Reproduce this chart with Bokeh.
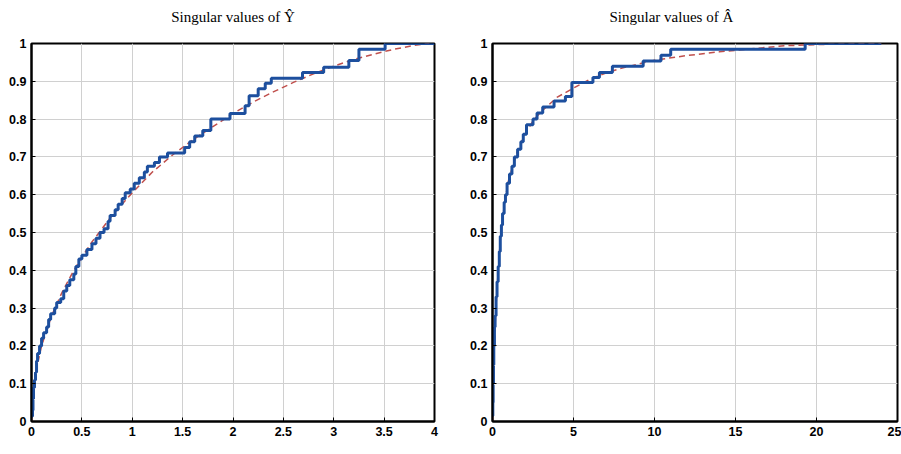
from bokeh.plotting import figure
from bokeh.layouts import row
from bokeh.models import Range1d, FixedTicker
from bokeh.embed import file_html
from bokeh.resources import INLINE

# ---------------- data ----------------
# Left panel: singular values of Y-hat (empirical CDF steps)
y_step_x = [0.00, 0.01, 0.015, 0.02, 0.03, 0.04, 0.05, 0.06, 0.08, 0.10, 0.12, 0.15, 0.17,
            0.19, 0.23, 0.25, 0.29, 0.32, 0.35, 0.38, 0.42, 0.44, 0.47, 0.50, 0.55, 0.60,
            0.64, 0.68, 0.72, 0.76, 0.78, 0.83, 0.86, 0.90, 0.93, 0.98, 1.02, 1.07, 1.12,
            1.15, 1.22, 1.27, 1.35, 1.52, 1.57, 1.62, 1.70, 1.78, 1.97, 2.12, 2.16, 2.25,
            2.32, 2.38, 2.69, 2.90, 3.15, 3.25, 3.51, 4.00]
y_step_y = [0.014, 0.03, 0.06, 0.09, 0.11, 0.13, 0.16, 0.18, 0.20, 0.22, 0.235, 0.25, 0.27,
            0.285, 0.30, 0.315, 0.325, 0.345, 0.36, 0.375, 0.39, 0.41, 0.43, 0.44, 0.455, 0.47,
            0.485, 0.50, 0.51, 0.53, 0.545, 0.56, 0.575, 0.59, 0.605, 0.615, 0.63, 0.645, 0.66,
            0.675, 0.685, 0.70, 0.71, 0.725, 0.74, 0.755, 0.77, 0.80, 0.815, 0.835, 0.862, 0.88,
            0.895, 0.908, 0.923, 0.937, 0.955, 0.985, 1.00, 1.00]
# Left panel: theoretical CDF (red dashed)
y_theo_x = [0.0, 0.005, 0.02, 0.05, 0.1, 0.2, 0.3, 0.4, 0.5, 0.6, 0.8, 1.0, 1.2, 1.4, 1.6,
            1.8, 2.0, 2.2, 2.4, 2.6, 2.8, 3.0, 3.2, 3.4, 3.6, 3.8, 3.95]
y_theo_y = [0.0, 0.04, 0.085, 0.14, 0.2, 0.28, 0.34, 0.39, 0.435, 0.475, 0.545, 0.605, 0.66,
            0.705, 0.745, 0.78, 0.815, 0.845, 0.872, 0.897, 0.92, 0.94, 0.958, 0.972, 0.985,
            0.995, 1.0]

# Right panel: singular values of A-hat (empirical CDF steps)
a_step_x = [0.0, 0.02, 0.04, 0.06, 0.08, 0.12, 0.16, 0.22, 0.28, 0.35, 0.42, 0.48, 0.55,
            0.62, 0.72, 0.80, 0.90, 1.05, 1.2, 1.35, 1.55, 1.75, 1.9, 2.1, 2.5, 2.75, 3.1,
            3.8, 4.5, 4.9, 6.2, 6.6, 7.4, 9.3, 10.4, 11.0, 19.3, 24.0]
a_step_y = [0.015, 0.05, 0.10, 0.15, 0.20, 0.25, 0.28, 0.33, 0.37, 0.41, 0.45, 0.49, 0.52,
            0.55, 0.58, 0.60, 0.63, 0.655, 0.675, 0.70, 0.72, 0.74, 0.76, 0.785, 0.80, 0.816,
            0.832, 0.848, 0.86, 0.897, 0.91, 0.923, 0.94, 0.954, 0.969, 0.985, 1.0, 1.0]
# Right panel: theoretical CDF (red dashed)
a_theo_x = [0.0, 0.02, 0.05, 0.1, 0.2, 0.35, 0.5, 0.75, 1.0, 1.5, 2.0, 2.5, 3.0, 4.0, 5.0,
            6.0, 7.0, 8.0, 10.0, 12.0, 14.0, 16.0, 18.0, 20.0, 22.0, 24.0]
a_theo_y = [0.0, 0.06, 0.12, 0.19, 0.29, 0.40, 0.49, 0.58, 0.64, 0.71, 0.76, 0.795, 0.82,
            0.858, 0.882, 0.905, 0.922, 0.935, 0.956, 0.968, 0.978, 0.986, 0.994, 0.997,
            0.999, 1.0]

left_xticks = [0, 0.5, 1, 1.5, 2, 2.5, 3, 3.5, 4]
right_xticks = [0, 5, 10, 15, 20, 25]
yticks = [0, 0.1, 0.2, 0.3, 0.4, 0.5, 0.6, 0.7, 0.8, 0.9, 1]

left_title = "Singular values of \u0176"
right_title = "Singular values of \u00c2"

BLUE = "#1d4f9e"
RED = "#c0504d"


def style(p, xticks):
    p.xaxis.ticker = FixedTicker(ticks=xticks)
    p.yaxis.ticker = FixedTicker(ticks=yticks)
    for ax in (p.xaxis, p.yaxis):
        ax.axis_line_width = 2
        ax.axis_line_color = "black"
        ax.major_tick_in = 4
        ax.major_tick_out = 0
        ax.major_tick_line_color = "black"
        ax.minor_tick_line_color = None
        ax.major_label_text_font = "Liberation Sans"
        ax.major_label_text_font_style = "bold"
        ax.major_label_text_font_size = "12.5px"
        ax.major_label_text_color = "black"
        ax.major_label_standoff = 5
    p.grid.grid_line_color = "#d0d0d0"
    p.grid.grid_line_width = 1
    p.outline_line_color = "black"
    p.outline_line_width = 2
    p.outline_line_alpha = 1
    p.title.text_font = "Liberation Serif"
    p.title.text_font_style = "normal"
    p.title.text_font_size = "15px"
    p.title.text_color = "black"
    p.title.standoff = 6


p1 = figure(width=450, height=454, output_backend="svg", toolbar_location=None,
            x_range=Range1d(0, 4), y_range=Range1d(0, 1),
            min_border_left=31, min_border_right=16, min_border_top=42, min_border_bottom=33,
            title=left_title + "\n")
style(p1, left_xticks)
p1.title.align = "center"
p1.line(y_theo_x, y_theo_y, line_color=RED, line_width=1.5, line_dash="6 4")
p1.step(y_step_x, y_step_y, mode="after", line_color=BLUE, line_width=3)

p2 = figure(width=451, height=454, output_backend="svg", toolbar_location=None,
            x_range=Range1d(0, 25), y_range=Range1d(0, 1),
            min_border_left=42, min_border_right=4, min_border_top=43, min_border_bottom=22,
            title=right_title + "\n")
style(p2, right_xticks)
p2.title.align = "left"
p2.title.offset = 117
p2.line(a_theo_x, a_theo_y, line_color=RED, line_width=1.5, line_dash="6 4")
p2.step(a_step_x, a_step_y, mode="after", line_color=BLUE, line_width=3)

layout = row(p1, p2, spacing=0)
open("out.html", "w").write(file_html(layout, INLINE))
